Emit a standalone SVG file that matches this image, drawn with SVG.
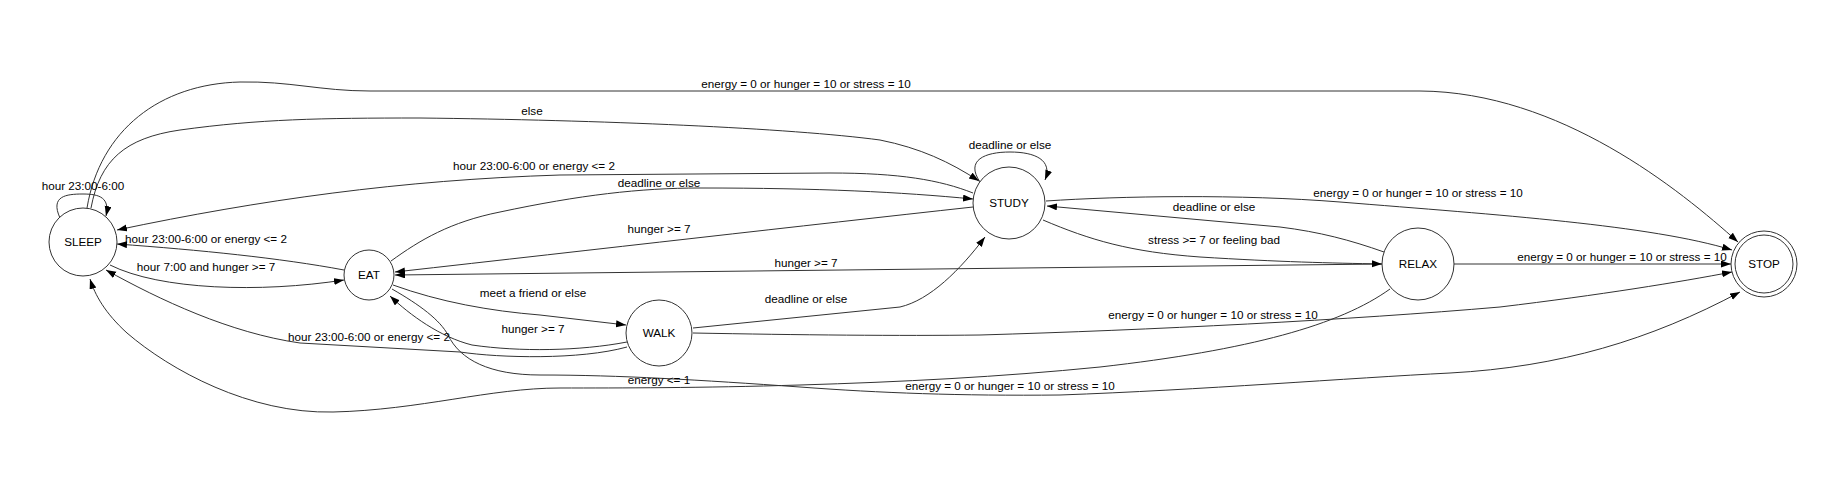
<svg xmlns="http://www.w3.org/2000/svg" width="1823" height="494" viewBox="0 0 1823 494">
<style>
.edge{fill:none;stroke:#333;stroke-width:1;marker-end:url(#arr)}
.node{fill:#fff;stroke:#333;stroke-width:1}
text{font-family:"Liberation Sans",Arial,sans-serif;font-size:11.7px;fill:#000;text-anchor:middle}
</style>
<defs>
<marker id="arr" markerUnits="userSpaceOnUse" markerWidth="11" markerHeight="8" refX="10" refY="3.5" orient="auto">
<path d="M0,0 L10,3.5 L0,7 z" fill="#000"/>
</marker>
</defs>
<rect width="1823" height="494" fill="#fff"/>
<g id="connectors">
<path class="edge" d="M 60,218 C 50,196 66,194 83,194 C 100,194 110,198 106,216"/>
<path class="edge" d="M 87,208 C 100,130 160,84 240,82 C 290,81 320,91 370,91 L 1420,91 C 1560,92 1680,190 1738,242"/>
<path class="edge" d="M 91,208 C 100,160 125,138 180,130 C 260,119 320,118 420,118 C 600,120 790,128 880,140 C 920,148 950,162 979,181"/>
<path class="edge" d="M 973,193 C 940,180 900,173 830,173 L 560,175 C 400,180 260,200 117,230"/>
<path class="edge" d="M 391,261 C 420,240 450,222 500,212 C 580,195 640,188 700,188 C 820,188 900,192 973,199"/>
<path class="edge" d="M 973,207 C 800,226 600,249 395,272"/>
<path class="edge" d="M 344,270 C 280,258 200,250 117,244"/>
<path class="edge" d="M 110,265 C 160,290 260,293 344,280"/>
<path class="edge" d="M 1382,264 L 395,275"/>
<path class="edge" d="M 393,285 C 440,302 490,311 540,315 L 626,325"/>
<path class="edge" d="M 627,342 C 580,351 520,352 472,345 C 440,337 410,315 390,296"/>
<path class="edge" d="M 627,347 C 580,360 500,358 460,352 L 300,343 C 230,333 160,300 106,270"/>
<path class="edge" d="M 693,328 L 900,307 C 930,300 960,270 985,237"/>
<path class="edge" d="M 693,333 C 800,335 900,336 980,335 C 1150,330 1350,320 1500,307 C 1600,295 1680,282 1732,272"/>
<path class="edge" d="M 1390,289 C 1340,325 1250,350 1100,367 C 1000,377 900,382 800,385 C 700,388 620,388 560,388 C 490,388 420,410 333,412 C 250,414 170,370 127,333 C 105,313 95,295 90,279"/>
<path class="edge" d="M 392,289 C 420,305 440,320 448,335 C 460,360 490,375 540,375 C 620,375 700,380 800,387 C 880,393 960,396 1060,395 C 1200,390 1350,378 1450,373 C 1560,367 1650,340 1740,292"/>
<path class="edge" d="M 1043,220 C 1090,240 1130,252 1200,257 C 1280,262 1330,263 1382,264"/>
<path class="edge" d="M 1384,252 C 1350,240 1320,232 1280,227 L 1047,206"/>
<path class="edge" d="M 1046,201 C 1120,196 1240,194 1340,202 C 1500,215 1650,225 1732,250"/>
<path class="edge" d="M 1454,264 L 1731,264"/>
<path class="edge" d="M 980,182 C 965,160 985,152 1010,152 C 1035,152 1053,160 1045,180"/>
</g>
<g id="edge-labels">
<text x="83" y="190">hour 23:00-6:00</text>
<text x="806" y="88">energy = 0 or hunger = 10 or stress = 10</text>
<text x="532" y="115">else</text>
<text x="534" y="170">hour 23:00-6:00 or energy &lt;= 2</text>
<text x="659" y="187">deadline or else</text>
<text x="659" y="233">hunger &gt;= 7</text>
<text x="806" y="267">hunger &gt;= 7</text>
<text x="533" y="297">meet a friend or else</text>
<text x="533" y="333">hunger &gt;= 7</text>
<text x="806" y="303">deadline or else</text>
<text x="659" y="384">energy &lt;= 1</text>
<text x="1010" y="390">energy = 0 or hunger = 10 or stress = 10</text>
<text x="1213" y="319">energy = 0 or hunger = 10 or stress = 10</text>
<text x="1418" y="197">energy = 0 or hunger = 10 or stress = 10</text>
<text x="1622" y="261">energy = 0 or hunger = 10 or stress = 10</text>
<text x="1214" y="211">deadline or else</text>
<text x="1214" y="244">stress &gt;= 7 or feeling bad</text>
<text x="206" y="243">hour 23:00-6:00 or energy &lt;= 2</text>
<text x="206" y="271">hour 7:00 and hunger &gt;= 7</text>
<text x="369" y="341">hour 23:00-6:00 or energy &lt;= 2</text>
<text x="1010" y="149">deadline or else</text>
</g>
<g id="SLEEP"><circle class="node" cx="83" cy="242" r="34"/><text x="83" y="246">SLEEP</text></g>
<g id="EAT"><circle class="node" cx="369" cy="275" r="25"/><text x="369" y="279">EAT</text></g>
<g id="WALK"><circle class="node" cx="659" cy="333" r="33"/><text x="659" y="337">WALK</text></g>
<g id="STUDY"><circle class="node" cx="1009" cy="203" r="36"/><text x="1009" y="207">STUDY</text></g>
<g id="RELAX"><circle class="node" cx="1418" cy="264" r="36"/><text x="1418" y="268">RELAX</text></g>
<g id="STOP"><circle class="node" cx="1764" cy="264" r="33"/><circle class="node" cx="1764" cy="264" r="29"/><text x="1764" y="268">STOP</text></g>
</svg>
